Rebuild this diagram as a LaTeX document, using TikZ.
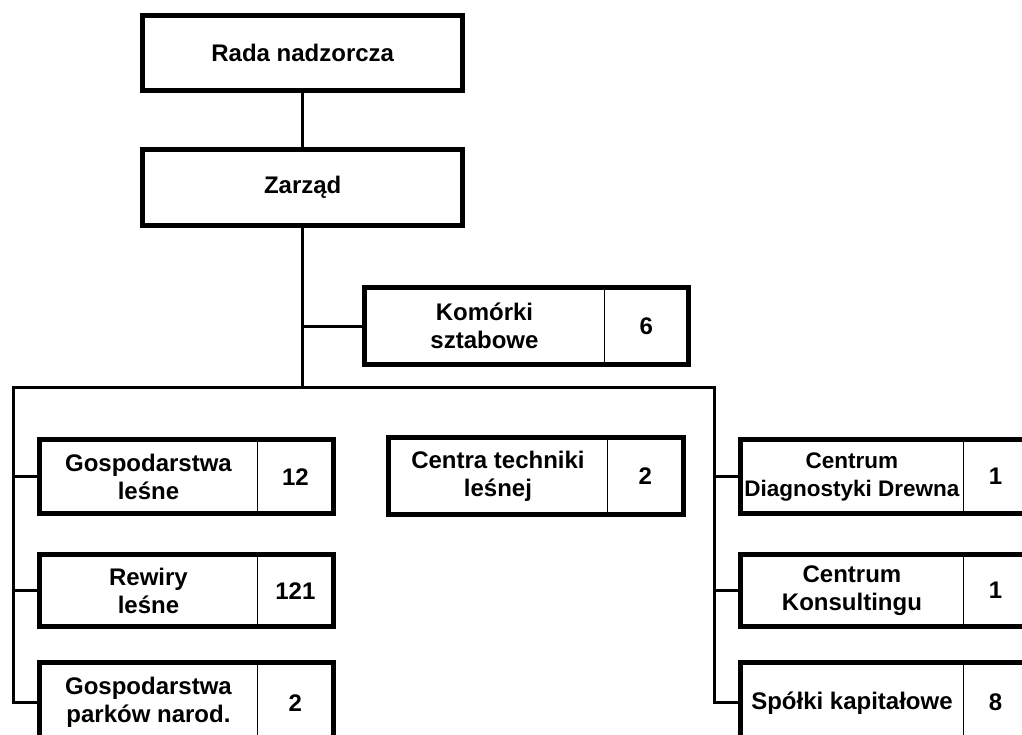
\documentclass[tikz,border=0pt]{standalone}
\usepackage{fontspec}
\setmainfont{Liberation Sans}
\usepackage{tikz}
\usetikzlibrary{positioning}

\begin{document}
\begin{tikzpicture}[x=1pt, y=-1pt,
	frame/.style={line width=5pt},
	link/.style={line width=3pt},
	part/.style={align=center, inner sep=0pt, font=\bfseries\fontsize{24}{28}\selectfont},
	unit/.style={part, anchor=north west},
	count/.style={part, anchor=west}]
	\useasboundingbox (0,0) rectangle (1022,735);
	\clip (0,0) rectangle (1022,735);
	% top
	\node[unit, minimum width=320pt, minimum height=75pt] (rada) at (142.5,15.5) {Rada nadzorcza};
	\node[unit, minimum width=320pt, minimum height=76pt] (zarzad) at (142.5,149.5) {Zarząd};
	\draw[frame] (rada.north west) rectangle (rada.south east);
	\draw[frame] (zarzad.north west) rectangle (zarzad.south east);
	% staff
	\node[unit, minimum width=239.5pt, minimum height=77pt] (kom) at (364.5,287.5) {Komórki\\sztabowe};
	\node[count, minimum width=83.5pt, minimum height=77pt] (komN) at (kom.east) {6};
	% left column
	\node[unit, minimum width=217.5pt, minimum height=74pt] (gl) at (39.5,439.5) {Gospodarstwa\\leśne};
	\node[count, minimum width=75.5pt, minimum height=74pt] (glN) at (gl.east) {12};
	\node[unit, minimum width=217.5pt, minimum height=72pt] (rl) at (39.5,554.5) {Rewiry\\leśne};
	\node[count, minimum width=75.5pt, minimum height=72pt] (rlN) at (rl.east) {121};
	\node[unit, minimum width=217.5pt, minimum height=80pt] (gpn) at (39.5,662.5) {Gospodarstwa\\parków narod.};
	\node[count, minimum width=75.5pt, minimum height=80pt] (gpnN) at (gpn.east) {2};
	% middle
	\node[unit, minimum width=218.5pt, minimum height=77pt] (ctl) at (388.5,437.5) {Centra techniki\\leśnej};
	\node[count, minimum width=75.5pt, minimum height=77pt] (ctlN) at (ctl.east) {2};
	% right column
	\node[unit, minimum width=222.5pt, minimum height=74pt, font=\bfseries\fontsize{22.5}{28}\selectfont] (cdd) at (740.5,439.5) {Centrum\\Diagnostyki Drewna};
	\node[count, minimum width=64pt, minimum height=74pt] (cddN) at (cdd.east) {1};
	\node[unit, minimum width=222.5pt, minimum height=72pt] (ck) at (740.5,554.5) {Centrum\\Konsultingu};
	\node[count, minimum width=64pt, minimum height=72pt] (ckN) at (ck.east) {1};
	\node[unit, minimum width=222.5pt, minimum height=80pt] (sk) at (740.5,662.5) {Spółki kapitałowe};
	\node[count, minimum width=64pt, minimum height=80pt] (skN) at (sk.east) {8};
	% frames
	\foreach \b in {kom,gl,rl,gpn,ctl,cdd,ck,sk} {
		\draw[frame] (\b.north west) rectangle (\b N.south east);
		\draw[line width=1.5pt] (\b.north east) -- (\b.south east);
	}
	% links
	\coordinate (busL) at (13,387);
	\coordinate (busR) at (714,387);
	\draw[link] (rada.south) -- (zarzad.north);
	\draw[link] (zarzad.south) -- (zarzad.south |- busL);
	\draw[link] (zarzad.south |- kom.west) -- (kom.west);
	\draw[link] (gpn.west) -| (busL) -- (busR) |- (sk.west);
	\draw[link] (busL |- gl.west) -- (gl.west);
	\draw[link] (busL |- rl.west) -- (rl.west);
	\draw[link] (busR |- cdd.west) -- (cdd.west);
	\draw[link] (busR |- ck.west) -- (ck.west);
\end{tikzpicture}
\end{document}
